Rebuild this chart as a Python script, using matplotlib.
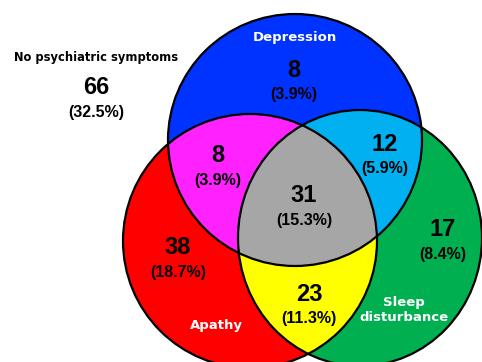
import matplotlib.pyplot as plt
import numpy as np
from matplotlib.patches import Ellipse, Polygon

# Counts per Venn region (D = depression, A = apathy, S = sleep disturbance)
regions = ['D', 'A', 'S', 'DA', 'DS', 'AS', 'DAS']
counts = [8, 38, 17, 8, 12, 23, 31]
none_label = 'No psychiatric symptoms'
none_count = 66
set_names = {'D': 'Depression', 'A': 'Apathy', 'S': 'Sleep\ndisturbance'}

total = none_count + sum(counts)

# layout in pixel units: centre x, centre y, half width, half height
shapes = {'D': (295, 140, 127, 126), 'A': (250, 241, 127, 127), 'S': (360, 238, 122, 128)}
colors = {'D': '#0033ff', 'A': '#ff0000', 'S': '#00b050',
          'DA': '#ff22ff', 'DS': '#00b0f0', 'AS': '#ffff00', 'DAS': '#a6a6a6'}
label_pos = {'D': (294, 83), 'A': (178, 260), 'S': (443, 242), 'DA': (218, 168),
             'DS': (385, 157), 'AS': (309, 307), 'DAS': (304, 208)}
name_pos = {'D': (295, 38), 'A': (216, 325), 'S': (404, 310)}

fig = plt.figure(figsize=(4.82, 3.62), dpi=100)
ax = fig.add_axes([0, 0, 1, 1])
ax.set_xlim(0, 482)
ax.set_ylim(362, 0)
ax.axis('off')


def shape(key, **kw):
    cx, cy, rx, ry = shapes[key]
    return Ellipse((cx, cy), 2 * rx, 2 * ry, **kw)


def disc(key, color, z, clip=None):
    p = shape(key, fc=color, ec='none', zorder=z)
    ax.add_patch(p)
    if clip is not None:
        p.set_clip_path(shape(clip, transform=ax.transData))
    return p


disc('A', colors['A'], 1)
disc('S', colors['S'], 1)
disc('S', colors['AS'], 2, clip='A')
disc('D', colors['D'], 3)
disc('A', colors['DA'], 4, clip='D')
disc('S', colors['DS'], 4, clip='D')

# centre region: boundary points of each set lying inside the other two
theta = np.linspace(0, 2 * np.pi, 3000)
pts = []
for k in 'DAS':
    cx, cy, rx, ry = shapes[k]
    xy = np.column_stack([cx + rx * np.cos(theta), cy + ry * np.sin(theta)])
    inside = np.ones(len(xy), bool)
    for o in 'DAS':
        if o != k:
            ox, oy, orx, ory = shapes[o]
            inside &= ((xy[:, 0] - ox) / orx) ** 2 + ((xy[:, 1] - oy) / ory) ** 2 <= 1 + 1e-9
    pts.append(xy[inside])
pts = np.vstack(pts)
mid = pts.mean(axis=0)
pts = pts[np.argsort(np.arctan2(pts[:, 1] - mid[1], pts[:, 0] - mid[0]))]
ax.add_patch(Polygon(pts, closed=True, fc=colors['DAS'], ec='none', zorder=5))

for k in 'DAS':
    ax.add_patch(shape(k, fill=False, ec='black', lw=1.6, zorder=6))

num_font = dict(family='Liberation Sans', fontweight='bold', ha='center', va='center', zorder=7)
for reg, n in zip(regions, counts):
    x, y = label_pos[reg]
    ax.text(x, y - 12.5, str(n), fontsize=17, **num_font)
    ax.text(x, y + 12, f'({100 * n / total:.1f}%)', fontsize=11.5, **num_font)

for k, name in set_names.items():
    x, y = name_pos[k]
    ax.text(x, y, name, color='white', fontsize=9.5, fontweight='bold',
            ha='center', va='center', linespacing=1.15, zorder=7)

ax.text(96, 58, none_label, fontsize=8.3, fontweight='bold', ha='center', va='center')
ax.text(96, 87, str(none_count), fontsize=17, **num_font)
ax.text(96, 112, f'({100 * none_count / total:.1f}%)', fontsize=11.5, **num_font)

fig.savefig('out.png', dpi=100)
